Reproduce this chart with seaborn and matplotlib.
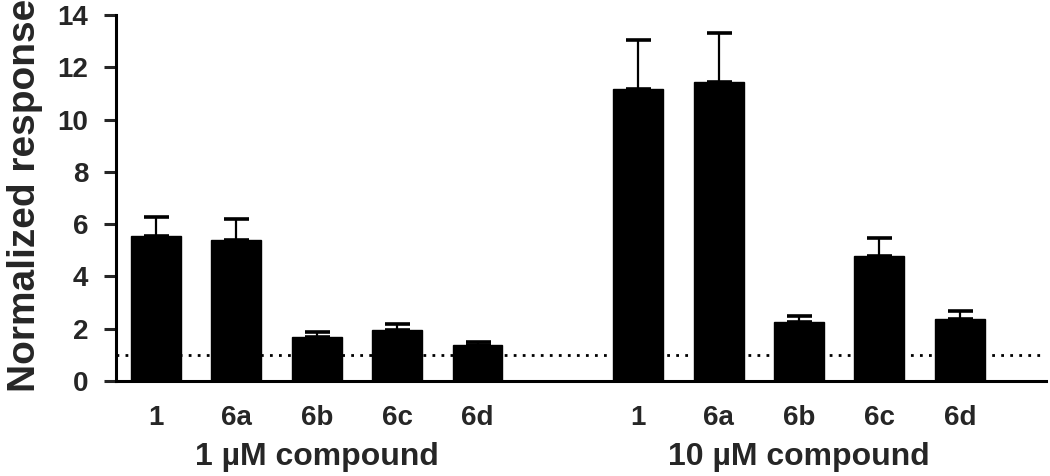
import numpy as np
import pandas as pd
import matplotlib
matplotlib.use("Agg")
import matplotlib.pyplot as plt
import matplotlib.transforms as mtransforms
import seaborn as sns

# ---- data ----
compounds = ["1", "6a", "6b", "6c", "6d"]
groups = ["1 \u00b5M compound", "10 \u00b5M compound"]
mean_1uM = [5.56, 5.39, 1.70, 1.95, 1.36]
err_1uM = [0.72, 0.80, 0.19, 0.23, 0.12]
mean_10uM = [11.18, 11.44, 2.27, 4.80, 2.38]
err_10uM = [1.86, 1.88, 0.21, 0.68, 0.30]
baseline = 1.0
yticks = [0, 2, 4, 6, 8, 10, 12, 14]

sns.set_style("ticks")
plt.rcParams["font.family"] = ["Liberation Sans", "DejaVu Sans"]
plt.rcParams["font.weight"] = "bold"

rows = []
for gi, (g, means, errs) in enumerate([(groups[0], mean_1uM, err_1uM),
                                       (groups[1], mean_10uM, err_10uM)]):
    for ci, (c, m, e) in enumerate(zip(compounds, means, errs)):
        rows.append({"group": g, "compound": c, "pos": gi * (len(compounds) + 1) + ci,
                     "mean": m, "err": e})
df = pd.DataFrame(rows)

fig = plt.figure(figsize=(10.5, 4.76), dpi=100)
ax = fig.add_axes([0.1105, 0.1996, 0.8855, 0.7689])

ax.axhline(baseline, color="black", lw=2, ls=(0, (1, 2.25)), zorder=1)

sns.barplot(data=df, x="pos", y="mean", native_scale=True, color="black",
            width=0.62, errorbar=None, ax=ax, zorder=3, saturation=1)
for p in ax.patches:
    p.set_edgecolor("black")
    p.set_facecolor("black")

ax.errorbar(df["pos"], df["mean"], yerr=[np.zeros(len(df)), df["err"]],
            fmt="none", ecolor="black", elinewidth=1.6, capsize=9, capthick=2.6,
            zorder=2)

ax.set_xlim(-0.4975, 11.07)
ax.set_ylim(0, 14)
ax.set_yticks(yticks)
ax.set_yticklabels([str(v) for v in yticks], fontsize=20, fontweight="bold")
ax.set_xticks(df["pos"])
ax.set_xticklabels(df["compound"], fontsize=20, fontweight="bold")
ax.tick_params(axis="x", length=0, pad=17)
ax.tick_params(axis="y", length=9, width=2.2, pad=11, direction="out")
ax.set_xlabel("")
ax.set_ylabel("Normalized response", fontsize=28, fontweight="bold")
ax.yaxis.set_label_coords(-0.079, 0.507)

sns.despine(ax=ax)
for s in ["left", "bottom"]:
    ax.spines[s].set_linewidth(2.2)
    ax.spines[s].set_color("black")

trans = mtransforms.blended_transform_factory(ax.transData, fig.transFigure)
for gi, g in enumerate(groups):
    center = df.loc[df["group"] == g, "pos"].mean()
    ax.text(center, 1 - 465 / 476, g, transform=trans, ha="center", va="baseline",
            fontsize=23, fontweight="bold")

fig.savefig("out.png", dpi=100)
